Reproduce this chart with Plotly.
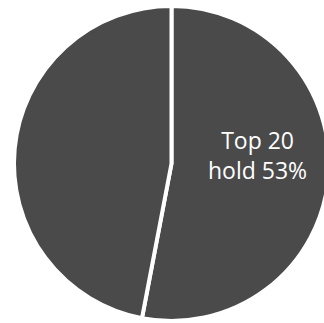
import plotly.graph_objects as go

labels = ["Top 20", "Others"]
values = [53, 47]
slice_colors = ["#4a4a4b", "#4a4a4b"]
label_text = "Top 20<br>hold 53%"

W, H = 340, 323

fig = go.Figure(go.Pie(
    labels=labels,
    values=values,
    sort=False,
    direction="clockwise",
    rotation=0,
    textinfo="none",
    hoverinfo="none",
    marker=dict(colors=slice_colors, line=dict(color="white", width=4)),
    domain=dict(x=[14 / W, 329 / W], y=[(H - 321) / H, (H - 6) / H]),
    showlegend=False,
))

fig.add_annotation(
    text=label_text,
    x=257 / W, y=(H - 155) / H,
    xref="paper", yref="paper",
    xanchor="center", yanchor="middle",
    showarrow=False,
    font=dict(family="Open Sans", size=23, color="white"),
    align="center",
)

fig.update_layout(
    width=W, height=H,
    margin=dict(l=0, r=0, t=0, b=0),
    paper_bgcolor="white",
    plot_bgcolor="white",
)

fig.write_html(
    "out.html",
    config={"displayModeBar": False},
    post_script="document.body.style.margin='0';document.body.style.overflow='hidden';",
)
